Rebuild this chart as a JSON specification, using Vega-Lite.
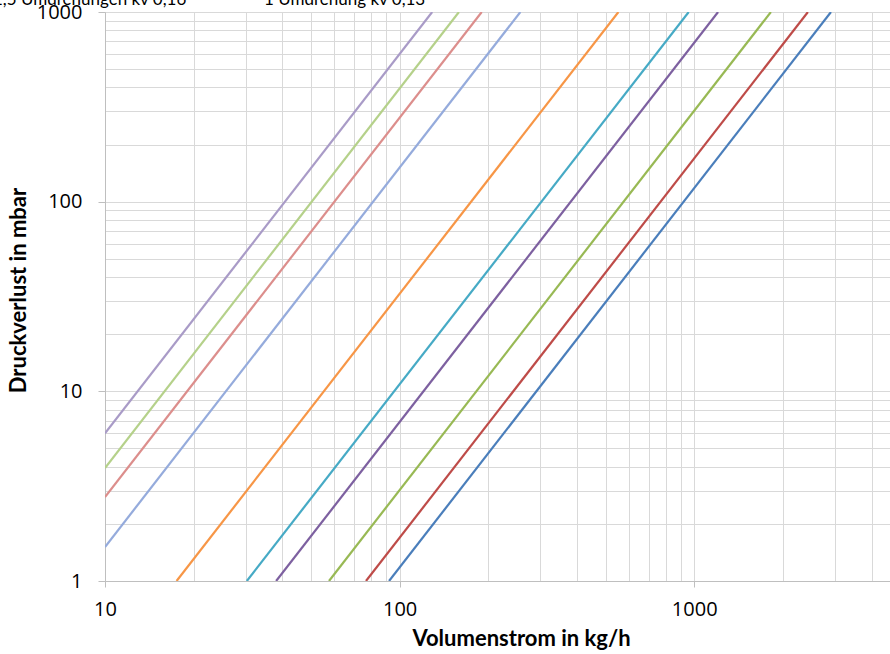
{
  "$schema": "https://vega.github.io/schema/vega-lite/v6.json",
  "autosize": {"type": "none"},
  "padding": {"left": 105, "top": 12, "right": 0, "bottom": 73},
  "width": 785,
  "height": 569,
  "background": "white",
  "config": {
    "view": {"stroke": null},
    "font": "Lato"
  },
  "data": {
    "values": [
      {"serie": "kv 2,9", "q": 92.1, "dp": 1},
      {"serie": "kv 2,9", "q": 2912, "dp": 1000},
      {"serie": "kv 2,4", "q": 76.9, "dp": 1},
      {"serie": "kv 2,4", "q": 2432, "dp": 1000},
      {"serie": "kv 1,8", "q": 57.6, "dp": 1},
      {"serie": "kv 1,8", "q": 1821, "dp": 1000},
      {"serie": "kv 1,2", "q": 38.1, "dp": 1},
      {"serie": "kv 1,2", "q": 1205, "dp": 1000},
      {"serie": "kv 0,96", "q": 30.3, "dp": 1},
      {"serie": "kv 0,96", "q": 958, "dp": 1000},
      {"serie": "kv 0,55", "q": 17.5, "dp": 1},
      {"serie": "kv 0,55", "q": 553, "dp": 1000},
      {"serie": "kv 0,26", "q": 10, "dp": 1.51},
      {"serie": "kv 0,26", "q": 257, "dp": 1000},
      {"serie": "kv 0,19", "q": 10, "dp": 2.77},
      {"serie": "kv 0,19", "q": 190, "dp": 1000},
      {"serie": "1,5 Umdrehungen kv 0,16", "q": 10, "dp": 3.94},
      {"serie": "1,5 Umdrehungen kv 0,16", "q": 159, "dp": 1000},
      {"serie": "1 Umdrehung kv 0,13", "q": 10, "dp": 6.0},
      {"serie": "1 Umdrehung kv 0,13", "q": 129, "dp": 1000}
    ]
  },
  "mark": {"type": "line", "strokeWidth": 2.2, "clip": true},
  "encoding": {
    "x": {
      "field": "q", "type": "quantitative",
      "scale": {"type": "log", "domain": [10, 4620], "nice": false},
      "axis": {
        "title": "Volumenstrom in kg/h",
        "titleFont": "Lato", "titleFontSize": 22, "titleFontWeight": "bold", "titleColor": "#000000",
        "titleX": 416, "titleY": 64, "titleBaseline": "alphabetic", "titleAnchor": null,
        "values": [10,20,30,40,50,60,70,80,90,100,200,300,400,500,600,700,800,900,1000,2000,3000,4000],
        "labelExpr": "(datum.value==10||datum.value==100||datum.value==1000) ? format(datum.value,'d') : ''",
        "labelFont": "Open Sans", "labelFontSize": 20, "labelColor": "#000000",
        "labelFlush": false, "labelOverlap": false, "labelPadding": 12,
        "tickSize": 6, "tickColor": "#BFBFBF",
        "tickOpacity": {"condition": {"test": "datum.value==10||datum.value==100||datum.value==1000", "value": 1}, "value": 0},
        "domainColor": "#BFBFBF", "domainWidth": 1,
        "grid": true, "gridColor": "#D9D9D9", "gridWidth": 1
      }
    },
    "y": {
      "field": "dp", "type": "quantitative",
      "scale": {"type": "log", "domain": [1, 1000], "nice": false},
      "axis": {
        "title": "Druckverlust in mbar",
        "titleFont": "Lato", "titleFontSize": 22, "titleFontWeight": "bold", "titleColor": "#000000",
        "titleX": -87, "titleY": 278, "titleBaseline": "middle", "titleAngle": -90, "titleAnchor": null,
        "values": [1,2,3,4,5,6,7,8,9,10,20,30,40,50,60,70,80,90,100,200,300,400,500,600,700,800,900,1000],
        "labelExpr": "(datum.value==1||datum.value==10||datum.value==100||datum.value==1000) ? format(datum.value,'d') : ''",
        "labelFont": "Open Sans", "labelFontSize": 20, "labelColor": "#000000",
        "labelFlush": false, "labelOverlap": false, "labelPadding": 16,
        "tickSize": 7, "tickColor": "#BFBFBF",
        "tickOpacity": {"condition": {"test": "datum.value==1||datum.value==10||datum.value==100||datum.value==1000", "value": 1}, "value": 0},
        "domainColor": "#BFBFBF", "domainWidth": 1,
        "grid": true, "gridColor": "#D9D9D9", "gridWidth": 1
      }
    },
    "color": {
      "field": "serie", "type": "nominal",
      "scale": {
        "domain": ["kv 2,9", "kv 2,4", "kv 1,8", "kv 1,2", "kv 0,96", "kv 0,55", "kv 0,26", "kv 0,19", "1,5 Umdrehungen kv 0,16", "1 Umdrehung kv 0,13"],
        "range": ["#4A7EBB", "#BE4B48", "#98B954", "#7D60A0", "#46AAC5", "#F79646", "#95ABDC", "#DC8E8C", "#B5D18A", "#A99BC7"]
      },
      "legend": {
        "title": null,
        "values": ["1,5 Umdrehungen kv 0,16", "1 Umdrehung kv 0,13"],
        "orient": "none", "legendX": -142, "legendY": -31,
        "direction": "horizontal",
        "symbolType": "stroke", "symbolSize": 400, "symbolStrokeWidth": 2,
        "labelFont": "Lato", "labelFontSize": 17, "labelColor": "#000000", "labelLimit": 400,
        "labelBaseline": "top",
        "labelOffset": 8, "columnPadding": 44
      }
    }
  }
}
